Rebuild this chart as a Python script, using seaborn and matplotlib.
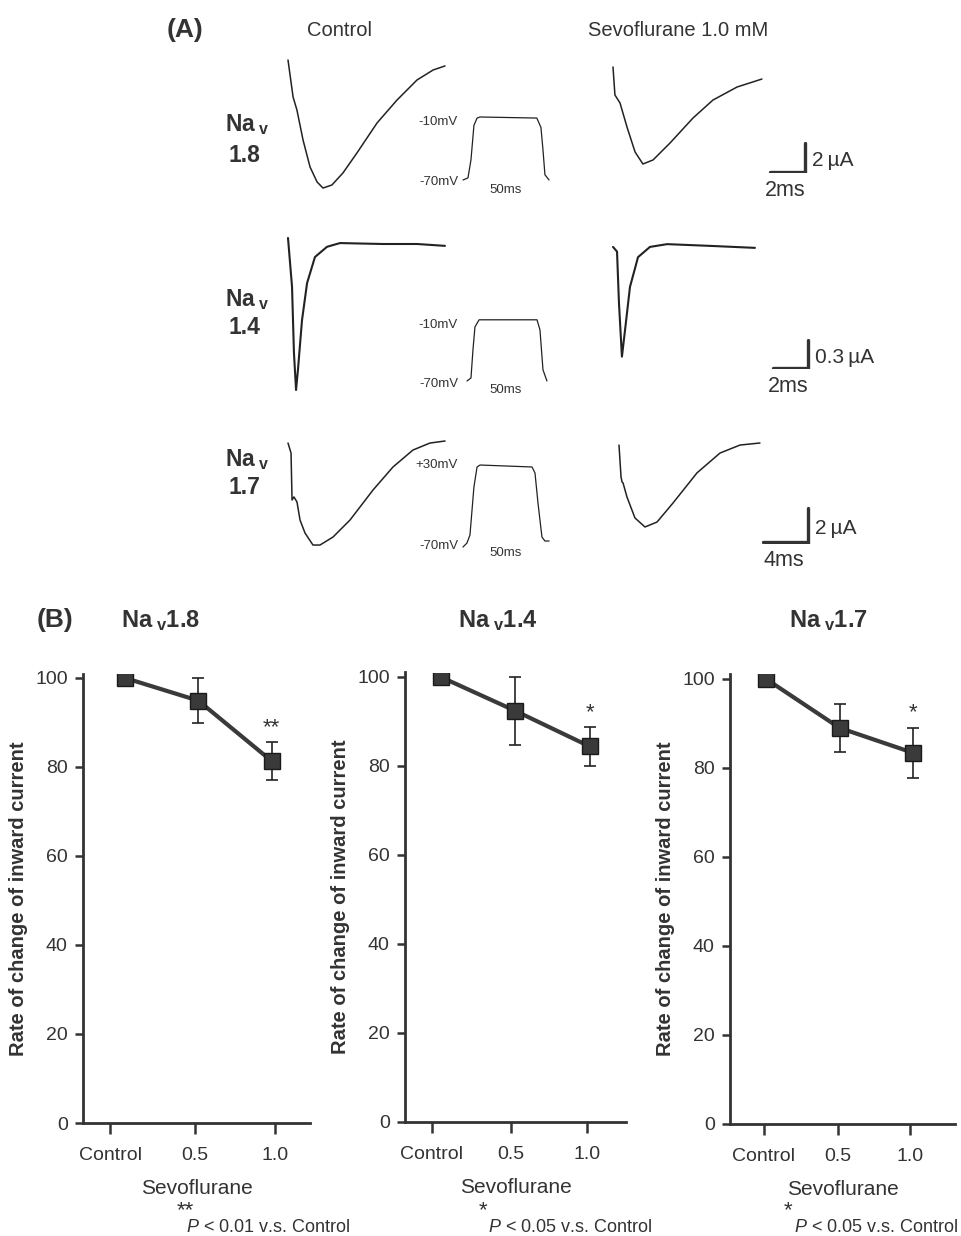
import numpy as np
import pandas as pd
import matplotlib
matplotlib.use("Agg")
import matplotlib.pyplot as plt
import seaborn as sns

sns.set_style("ticks")
plt.rcParams["font.family"] = ["Liberation Sans", "DejaVu Sans"]
plt.rcParams["mathtext.fontset"] = "custom"
plt.rcParams["mathtext.rm"] = "Liberation Sans"
plt.rcParams["mathtext.it"] = "Liberation Sans:italic"
plt.rcParams["mathtext.bf"] = "Liberation Sans:bold"

# ---- panel A: current traces (ms, uA)
ctrl18_t = [0, 0.29, 0.51, 0.86, 1.26, 1.66, 2.00, 2.51, 3.14, 3.94, 5.09, 6.23, 7.37, 8.29, 8.97]
ctrl18_i = [0, -2.55, -3.45, -5.52, -7.38, -8.41, -8.83, -8.62, -7.79, -6.41, -4.34, -2.76, -1.38, -0.69, -0.41]
sevo18_t = [0, 0.11, 0.40, 0.80, 1.26, 1.71, 2.29, 3.26, 4.57, 5.71, 7.09, 8.51]
sevo18_i = [0, -1.93, -2.48, -4.14, -5.86, -6.69, -6.41, -5.24, -3.52, -2.28, -1.38, -0.83]

ctrl14_t = [0, 0.23, 0.34, 0.46, 0.57, 0.80, 1.09, 1.54, 2.23, 2.97, 5.43, 7.37, 8.97]
ctrl14_i = [0.065, -0.46, -1.17, -1.57, -1.35, -0.82, -0.42, -0.14, -0.03, 0.01, 0, 0, -0.02]
sevo14_t = [0, 0.23, 0.34, 0.51, 0.69, 0.97, 1.43, 2.11, 3.09, 5.71, 8.11]
sevo14_i = [-0.01, -0.06, -0.61, -1.19, -0.90, -0.44, -0.12, -0.01, 0.02, 0, -0.02]

ctrl17_t = [0, 0.27, 0.36, 0.53, 0.80, 1.07, 1.51, 2.22, 2.84, 4.00, 5.51, 7.56, 9.33, 11.11, 12.62, 13.96]
ctrl17_i = [-0.12, -0.71, -3.47, -3.29, -3.59, -4.65, -5.41, -6.12, -6.12, -5.65, -4.65, -2.88, -1.53, -0.53, -0.12, 0]
sevo17_t = [0, 0.18, 0.27, 0.36, 0.71, 1.42, 2.31, 3.38, 4.80, 6.93, 8.98, 10.76, 12.53]
sevo17_i = [-0.12, -2.0, -2.29, -2.35, -3.18, -4.41, -4.94, -4.65, -3.53, -1.76, -0.59, -0.12, 0]

# voltage steps (ms, mV)
step18_t = [0, 3.5, 5.6, 7.7, 9.9, 12, 52, 54.9, 56.3, 57.7, 60.6]
step18_v = [-70, -68, -51, -18, -11, -10, -11, -20, -41, -65, -70]
step14_t = [0, 2.8, 4.2, 5.6, 8.5, 49.3, 51.4, 53.5, 56.3]
step14_v = [-70, -67, -39.5, -17, -10, -10, -20, -59, -70]
step17_t = [0, 2.8, 4.9, 7.7, 9.9, 12, 48.6, 50.7, 52.8, 55.6, 57.7, 60.6]
step17_v = [-78, -72.7, -62, 2, 28.7, 31.3, 28.7, 20.7, -19.3, -64.7, -70, -70]

# scale bars: (ms, uA)
bar_ms = [2, 2, 4]
bar_ua = [2, 0.3, 2]
bar_ua_labels = ["2\u2009\u00b5A", "0.3\u2009\u00b5A", "2\u2009\u00b5A"]
bar_ms_labels = ["2ms", "2ms", "4ms"]
step_hi_labels = ["-10mV", "-10mV", "+30mV"]

# ---- panel B
conc_labels = ["Control", "0.5", "1.0"]
titles = ["1.8", "1.4", "1.7"]
means = [[100, 94.9, 81.3], [100, 92.4, 84.4], [100, 89.0, 83.4]]
sems = [[0, 5.1, 4.2], [0, 7.6, 4.3], [0, 5.4, 5.6]]
stars = ["**", "*", "*"]
notes = ["P < 0.01 v.s. Control", "P < 0.05 v.s. Control", "P < 0.05 v.s. Control"]

W, H = 961, 1236
fig = plt.figure(figsize=(W / 100, H / 100), dpi=100)
ink = "#222222"
grey = "#333333"


def px_axes(left, top, right, bottom):
    return fig.add_axes([left / W, 1 - bottom / H, (right - left) / W, (bottom - top) / H])


def scaled_axes(ox, oy, sx, sy, xlo, xhi, ylo, yhi):
    ax = px_axes(ox + xlo * sx, oy - yhi * sy, ox + xhi * sx, oy - ylo * sy)
    ax.set_xlim(xlo, xhi)
    ax.set_ylim(ylo, yhi)
    ax.axis("off")
    return ax


def trace(ox, oy, sx, sy, t, v, lw=1.1):
    px, py = 4 / sx, 4 / sy
    ax = scaled_axes(ox, oy, sx, sy, min(t) - px, max(t) + px, min(v) - py, max(v) + py)
    df = pd.DataFrame({"t": t, "v": v})
    sns.lineplot(data=df, x="t", y="v", ax=ax, color=ink, lw=lw, estimator=None, sort=False,
                 solid_joinstyle="round", solid_capstyle="round")
    ax.axis("off")
    return ax


def txt(x, y, s, **kw):
    kw.setdefault("color", grey)
    fig.text(x / W, 1 - y / H, s, **kw)


# panel A headings
txt(185, 30, "(A)", fontsize=19, fontweight="bold", ha="center", va="center")
txt(340, 31, "Control", fontsize=14.5, ha="center", va="center")
txt(678, 31, "Sevoflurane 1.0 mM", fontsize=14.5, ha="center", va="center")

rows = [
    dict(name="1.8", y=(125, 155), ctrl=(ctrl18_t, ctrl18_i, 288, 60), sevo=(sevo18_t, sevo18_i, 613, 67),
         sx=17.5, sy=14.5, lw=1.1, step=(step18_t, step18_v, 463, 180, 1.05), hi=122, lo=182, ms=190,
         bar=(805, 172)),
    dict(name="1.4", y=(300, 328), ctrl=(ctrl14_t, ctrl14_i, 288, 244), sevo=(sevo14_t, sevo14_i, 613, 246),
         sx=17.5, sy=93, lw=1.5, step=(step14_t, step14_v, 467, 381, 1.02), hi=325, lo=384, ms=390,
         bar=(808, 368)),
    dict(name="1.7", y=(460, 488), ctrl=(ctrl17_t, ctrl17_i, 288, 441), sevo=(sevo17_t, sevo17_i, 619, 443),
         sx=11.25, sy=17, lw=1.1, step=(step17_t, step17_v, 463, 541, 0.75), hi=465, lo=546, ms=553,
         bar=(808, 542)),
]

for k, r in enumerate(rows):
    txt(225, r["y"][0], r"$\mathbf{Na_{\ v}}$", fontsize=16.5, ha="left", va="center")
    txt(229, r["y"][1], r["name"], fontsize=16.5, fontweight="bold", ha="left", va="center")
    for t, v, ox, oy in (r["ctrl"], r["sevo"]):
        trace(ox, oy, r["sx"], r["sy"], t, v, lw=r["lw"])
    st, sv, ox, oy, sy = r["step"]
    trace(ox, oy + sv[-1] * sy, 1.42, sy, st, sv, lw=0.9)
    txt(458, r["hi"], step_hi_labels[k], fontsize=9.5, ha="right", va="center")
    txt(459, r["lo"], "-70mV", fontsize=9.5, ha="right", va="center")
    txt(506, r["ms"], "50ms", fontsize=9.5, ha="center", va="center")
    # scale bar
    bx, by = r["bar"]
    ax = scaled_axes(bx, by, r["sx"], r["sy"], -bar_ms[k] - 0.3, 0.3, -0.05 * bar_ua[k], bar_ua[k] * 1.05)
    ax.plot([-bar_ms[k], 0, 0], [0, 0, bar_ua[k]], color=grey, lw=2.4, solid_joinstyle="miter")
    txt(bx + 7, by - bar_ua[k] * r["sy"] / 2 + 3, bar_ua_labels[k], fontsize=15, ha="left", va="center")
    txt(bx - bar_ms[k] * r["sx"] / 2 - 2, by + 19, bar_ms_labels[k], fontsize=15.5, ha="center", va="center")

# panel B
txt(55, 620, "(B)", fontsize=19, fontweight="bold", ha="center", va="center")
boxes = [(83, 673.5, 310, 1123), (405, 672.5, 626, 1122), (730, 674.5, 955, 1124)]
xlims = [(-0.57, 2.52), (-0.48, 2.49), (-0.49, 2.57)]
tickpos = [[-0.2, 0.95, 2.05], [-0.12, 0.94, 1.97], [-0.03, 0.98, 1.96]]
title_x = [160, 498, 828]
star_x = [185, 483, 788]
note_x = [186, 488, 794]

for k in range(3):
    ax = px_axes(*boxes[k])
    df = pd.DataFrame({"x": [0, 1, 2], "y": means[k]})
    ax.errorbar(df["x"], df["y"], yerr=sems[k], fmt="none", ecolor=ink, elinewidth=1.2,
                capsize=4, capthick=1.2, zorder=2)
    sns.lineplot(data=df, x="x", y="y", ax=ax, color="#3a3a3a", lw=3, marker="s", markersize=11,
                 markeredgecolor="#1a1a1a", markeredgewidth=1, zorder=3)
    ax.text(2, means[k][2] + sems[k][2] + 1.0, stars[k], ha="center", va="bottom", fontsize=16, color=grey)
    ax.set_xlim(*xlims[k])
    ax.set_ylim(0, 101)
    ax.set_yticks([0, 20, 40, 60, 80, 100])
    ax.set_xticks(tickpos[k])
    ax.set_xticklabels(conc_labels)
    ax.tick_params(axis="y", length=6, width=1.8, labelsize=14, pad=5, colors=grey)
    ax.tick_params(axis="x", length=8, width=1.8, labelsize=14, pad=9, colors=grey)
    for s in ("left", "bottom"):
        ax.spines[s].set_linewidth(2)
        ax.spines[s].set_color(grey)
    sns.despine(ax=ax)
    ax.set_xlabel("Sevoflurane", fontsize=15, color=grey, labelpad=11)
    ax.set_ylabel("Rate of change of inward current", fontsize=14.5, fontweight="bold", color=grey)
    ax.yaxis.set_label_coords(-55 / (boxes[k][2] - boxes[k][0]), 0.5)
    txt(title_x[k], 621, r"$\mathbf{Na_{\ v}" + titles[k] + "}$", fontsize=17, ha="center", va="center")
    txt(star_x[k], 1211, stars[k], fontsize=16, ha="center", va="center")
    txt(note_x[k], 1227, r"$P$" + notes[k][1:], fontsize=13, ha="left", va="center")

fig.savefig("out.png", dpi=100)
